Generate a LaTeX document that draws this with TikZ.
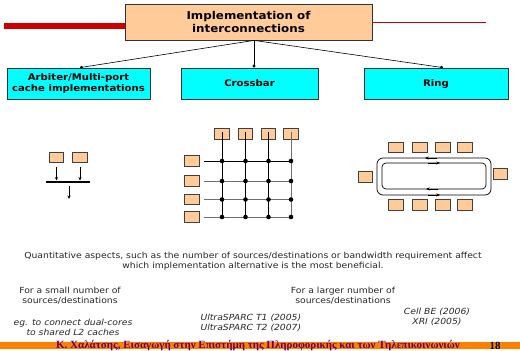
\documentclass[tikz,border=0pt]{standalone}
\usepackage{fontspec}
\setmainfont{DejaVu Sans}[FakeStretch=1.1]
\newfontfamily\footfont{Liberation Serif}
\usetikzlibrary{arrows.meta,calc}

\definecolor{peach}{RGB}{255,204,153}
\definecolor{aqua}{RGB}{0,255,255}
\definecolor{deepred}{RGB}{204,0,0}
\definecolor{barorange}{RGB}{255,128,0}
\definecolor{footpurple}{RGB}{102,0,102}
\definecolor{wire}{RGB}{110,110,110}

\tikzset{
  headbox/.style={draw=black!80, line width=0.8pt, fill=peach, minimum width=247pt,
    minimum height=36pt, align=center, inner sep=0pt,
    font=\fontsize{10.8}{13.5}\selectfont\bfseries},
  kindbox/.style={draw=black!80, line width=0.8pt, fill=aqua, minimum height=31pt,
    align=center, inner sep=0pt, font=\fontsize{9.2}{11.5}\selectfont\bfseries},
  unit/.style={draw=black!75, line width=0.8pt, fill=peach, minimum width=14.5pt,
    minimum height=10.5pt, inner sep=0pt},
  branch/.style={line width=0.6pt, -{Circle[length=3pt]}},
  flow/.style={line width=0.7pt, -{Stealth[length=3.5pt,width=3pt]}},
  note/.style={align=center, font=\fontsize{8.4}{10}\selectfont, text=black!85},
  noteit/.style={note, font=\fontsize{8.4}{10}\selectfont\itshape},
  xdot/.style={fill=black},
}

\begin{document}
\begin{tikzpicture}[x=1pt,y=-1pt]
\useasboundingbox (0,0) rectangle (520,351);

% title bar and heading box
\node[headbox] (impl) at (248.5,22) {Implementation of\\interconnections};
\coordinate (redL) at (4,25.5);
\coordinate (redR) at (486,22.3);
\draw[deepred, line width=6pt] (redL) -- (redL -| impl.west);
\draw[deepred, line width=0.6pt] (impl.east |- redR) -- (redR);

% the three alternatives
\node[kindbox, minimum width=143pt] (arb) at (78.5,83.5) {Arbiter/Multi-port\\cache implementations};
\node[kindbox, minimum width=137pt] (cb) at (249.5,83.5) {Crossbar};
\node[kindbox, minimum width=144pt] (ring) at (436,83.5) {Ring};

\coordinate (hub) at ([xshift=5.5pt]impl.south);
\draw[branch] (hub) -- ([xshift=1.5pt]arb.north);
\draw[branch] (hub) -- ([xshift=4.5pt]cb.north);
\draw[branch] (hub) -- ([xshift=7pt]ring.north);

% arbiter / shared bus
\node[unit] (a1) at (56.5,157.5) {};
\node[unit] (a2) at (80,157.5) {};
\coordinate (busL) at (46,182);
\coordinate (busR) at (90,182);
\coordinate (busOut) at (69,199);
\draw[line width=1.6pt] (busL) -- (busR);
\draw[flow, shorten <=4pt, shorten >=1.5pt] (a1.south) -- (a1.south |- busL);
\draw[flow, shorten <=4pt, shorten >=1.5pt] (a2.south) -- (a2.south |- busL);
\draw[flow] (busOut |- busL) ++(0,4) -- (busOut);

% crossbar
\foreach \i/\x in {1/222,2/245.5,3/268.5,4/291}
  \node[unit] (t\i) at (\x,134) {};
\foreach \i/\y in {1/161,2/181,3/199.5,4/217}
  \node[unit] (l\i) at (192,\y) {};
\draw[line width=0.7pt, black] ([xshift=4pt]l1.east) -- (l1.east -| t4.south);
\foreach \i in {2,3,4}
  \draw[line width=0.8pt, wire] ([xshift=4pt]l\i.east) -- (l\i.east -| t4.south);
\foreach \i in {1,2,3}
  \draw[line width=0.7pt, black] ([yshift=8pt]t\i.south) -- (t\i.south |- l4.east);
\draw[line width=0.8pt, wire] ([yshift=8pt]t4.south) -- (t4.south |- l4.east);
\foreach \i in {1,2,3,4}
  \foreach \j in {1,2,3,4}
    \fill[xdot] (t\i.south |- l\j.east) circle (2.3pt);

% ring
\draw[line width=0.7pt, rounded corners=6pt] (377,158) rectangle (491,195);
\draw[line width=0.7pt, rounded corners=4pt] (382,163) rectangle (486,189);
\draw[flow] (437,158) -- (425,158);
\draw[flow] (428,163) -- (440,163);
\draw[flow] (438,189) -- (426,189);
\draw[flow] (428,195) -- (440,195);
\foreach \i/\x in {1/396,2/420,3/443,4/465}{
  \node[unit] (rt\i) at (\x,147.5) {};
  \node[unit] (rb\i) at (\x,205) {};
}
\node[unit] (rl) at (365.5,177) {};
\node[unit] (rr) at (500.5,174) {};

% notes
\node[note] (quant) at (253,261) {Quantitative aspects, such as the number of sources/destinations or bandwidth requirement affect\\which implementation alternative is the most beneficial.};
\node[note] (small) at (70,296) {For a small number of\\sources/destinations};
\node[note] (large) at (343,296) {For a larger number of\\sources/destinations};
\node[noteit] (eg) at (73,327) {eg. to connect dual-cores\\to shared L2 caches};
\node[noteit, align=left, anchor=west] (sparc) at (197,323) {UltraSPARC T1 (2005)\\UltraSPARC T2 (2007)};
\node[noteit] (cell) at (437,317) {Cell BE (2006)\\XRI (2005)};

% footer
\fill[barorange] (0,342) rectangle (520,349);
\node[font=\footfont\fontsize{11}{11}\selectfont\bfseries, text=footpurple] (foot) at (258,346)
  {Κ. Χαλάτσης, Εισαγωγή στην Επιστήμη της Πληροφορικής και των Τηλεπικοινωνιών};
\node[font=\footfont\fontsize{11}{11}\selectfont\bfseries] (page) at (495,346) {18};
\end{tikzpicture}
\end{document}
